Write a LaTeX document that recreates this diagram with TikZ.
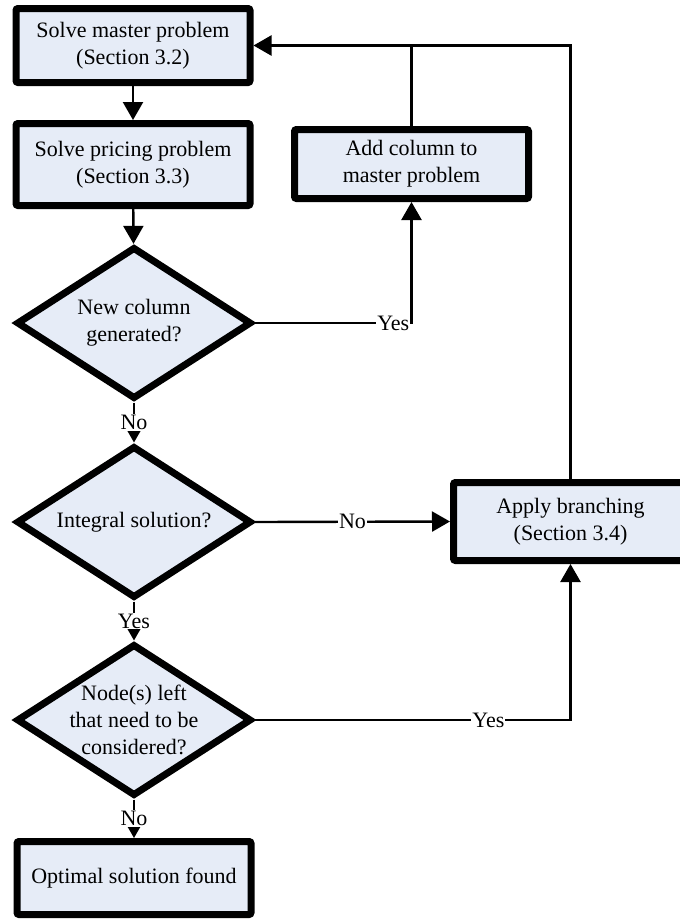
\documentclass[tikz,border=0pt]{standalone}
\usepackage{fontspec}
\setmainfont{Liberation Serif}
\usetikzlibrary{shapes.geometric,arrows.meta}
\definecolor{boxfill}{RGB}{230,236,247}
\begin{document}
\begin{tikzpicture}[x=0.5pt,y=-0.5pt,
    font=\fontsize{11}{13.5}\selectfont,
    block/.style={draw,line width=3.5pt,fill=boxfill,rectangle,rounded corners=1pt,
      minimum width=117pt,align=center,inner sep=0pt},
    decision/.style={draw,line width=3.5pt,fill=boxfill,diamond,
      minimum width=117.5pt,minimum height=76pt,inner sep=0pt},
    flow/.style={line width=1.2pt,-{Triangle[length=9pt,width=10pt]}},
    lbl/.style={fill=white,inner sep=0.5pt}]
      \clip (0,0) rectangle (680,922);
      \node[block,minimum height=37pt] (master) at (133,45.5)
        {Solve master problem\\(Section 3.2)};
      \node[block,minimum height=41pt] (pricing) at (133,164.5)
        {Solve pricing problem\\(Section 3.3)};
      \node[block,minimum height=34.5pt] (addcol) at (411.5,164)
        {Add column to\\master problem};
      \node[decision,label={[align=center]center:New column\\generated?}] (newcol) at (134,323) {};
      \node[decision,label={[align=center]center:Integral solution?}] (integral) at (134,522) {};
      \node[decision,label={[align=center]center:Node(s) left\\that need to be\\considered?}] (nodesleft) at (134,720) {};
      \node[block,minimum height=39pt] (branch) at (570.5,521.5)
        {Apply branching\\(Section 3.4)};
      \node[block,minimum height=36.5pt] (optimal) at (134,878)
        {Optimal solution found};
      \begin{scope}[flow]
        \draw (master) to (pricing);
        \draw (pricing) to (newcol);
        \draw (newcol.south) -- node[lbl]{No} (integral.north);
        \draw (integral.south) -- node[lbl]{Yes} (nodesleft.north);
        \draw (nodesleft.south) -- node[lbl]{No} (optimal.north);
        \draw (newcol.east) -- node[lbl,pos=1,anchor=east]{Yes} (newcol.east -| addcol.south) -- (addcol.south);
        \draw (integral.east) -- node[lbl]{No} (branch.west);
        \draw (nodesleft.east) -| node[lbl,pos=0.37]{Yes} (branch.south);
        \draw (branch.north) |- (master.east);
        \draw[-] (addcol.north) -- (addcol.north |- master.east);
      \end{scope}
    \end{tikzpicture}
\end{document}
